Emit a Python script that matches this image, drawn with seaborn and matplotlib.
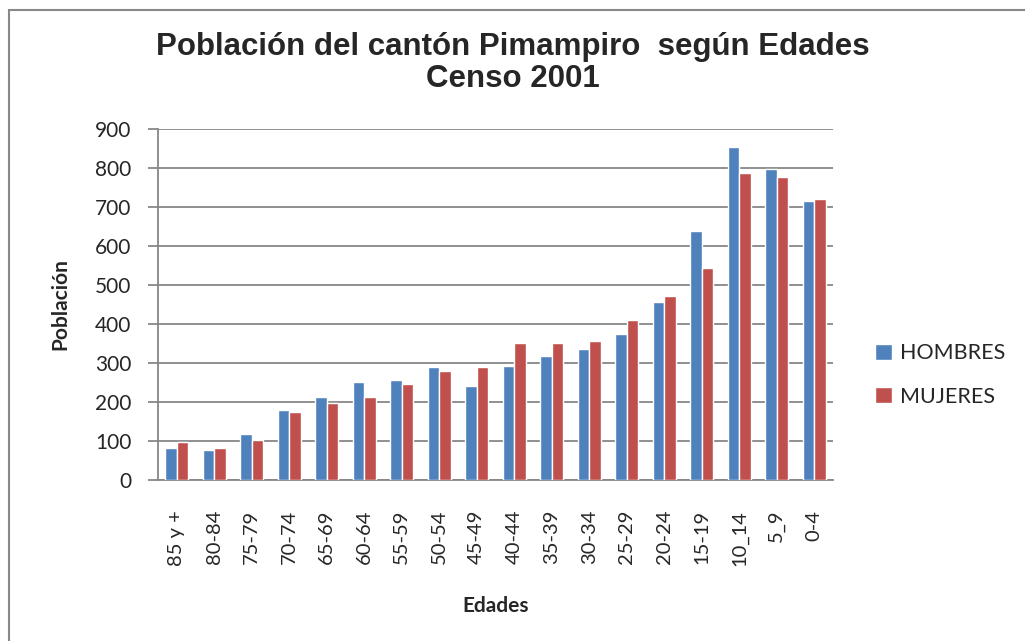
import pandas as pd
import seaborn as sns
import matplotlib.pyplot as plt
from matplotlib.patches import Rectangle

edades = ['85 y +', '80-84', '75-79', '70-74', '65-69', '60-64', '55-59', '50-54', '45-49',
          '40-44', '35-39', '30-34', '25-29', '20-24', '15-19', '10_14', '5_9', '0-4']
hombres = [83, 78, 117, 179, 212, 251, 256, 289, 241,
           293, 317, 336, 375, 456, 639, 854, 797, 716]
mujeres = [97, 83, 102, 174, 198, 212, 246, 279, 289,
           351, 351, 356, 409, 471, 544, 788, 777, 720]

df = pd.DataFrame({'Edades': edades * 2,
                   'Población': hombres + mujeres,
                   'Sexo': ['HOMBRES'] * len(edades) + ['MUJERES'] * len(edades)})

sns.set_style('white')
plt.rcParams['font.family'] = ['Lato', 'DejaVu Sans']

fig = plt.figure(figsize=(10.25, 6.41), dpi=100)
ax = fig.add_axes([158 / 1025, 1 - 480 / 641, (833 - 158) / 1025, (480 - 129) / 641])

# chart border
fig.patches.append(Rectangle((9 / 1025, -0.05), 1.2, 1 - 10 / 641 + 0.05, transform=fig.transFigure,
                             fill=False, edgecolor='#888888', linewidth=1.5))

sns.barplot(data=df, x='Edades', y='Población', hue='Sexo', order=edades,
            palette=['#4F81BD', '#C0504D'], width=0.62, saturation=1, ax=ax, zorder=3)

ax.set_ylim(0, 900)
ax.set_yticks(range(0, 1000, 100))
ax.set_xlim(-0.5, len(edades) - 0.5)
ax.yaxis.grid(True, color='#878787', linewidth=1.3, zorder=0)
ax.set_axisbelow(True)
for s in ['top', 'right']:
    ax.spines[s].set_visible(False)
for s in ['left', 'bottom']:
    ax.spines[s].set_color('#878787')
    ax.spines[s].set_linewidth(1.3)
ax.tick_params(axis='y', left=True, length=7, color='#878787', width=1.3, labelsize=15, pad=12)
ax.tick_params(axis='x', bottom=False, labelsize=14.5, pad=18, rotation=90)

ax.set_xlabel('Edades', fontsize=15, fontweight='bold', labelpad=22)
ax.set_ylabel('Población', fontsize=15, fontweight='bold', labelpad=18)

fig.text(0.5, 1 - 63 / 641, 'Población del cantón Pimampiro  según Edades\nCenso 2001',
         ha='center', va='center', fontsize=22.5, fontweight='bold',
         family='Liberation Sans', linespacing=1.08)

ax.legend(title=None, loc='center left', bbox_to_anchor=(856 / 1025, 1 - 375 / 641),
          bbox_transform=fig.transFigure, frameon=False, fontsize=15.5,
          handlelength=0.75, handleheight=0.75, labelspacing=1.1, handletextpad=0.4)

fig.savefig('out.png', dpi=100)
